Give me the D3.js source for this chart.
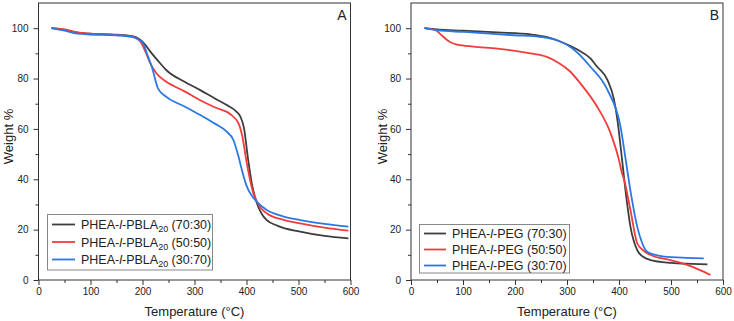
<!DOCTYPE html>
<html>
<head>
<meta charset="utf-8">
<script src="https://cdn.jsdelivr.net/npm/d3@7"></script>
<style>
  body { margin: 0; background: #fff; }
  svg { display: block; font-family: Arial, "Liberation Sans", sans-serif; }
</style>
</head>
<body>
<svg id="chart"></svg>
<script>
const WIDTH = 734;
const HEIGHT = 321;

// Panel A: PHEA-l-PBLA20 copolymers
const tempA7030 = [25, 50, 75, 100, 150, 180, 195, 205, 214, 230, 246, 280, 311, 340, 362, 380, 388, 395, 403, 410, 420, 430, 439, 460, 503, 550, 596];
const weightA7030 = [100, 99.3, 98.2, 97.8, 97.4, 96.8, 95.5, 93.5, 91, 87, 83.3, 78.8, 75.4, 72, 69.5, 67, 65, 60.5, 48, 38.5, 30.5, 26, 23.8, 21.5, 19.2, 17.5, 16.5];
const tempA5050 = [25, 50, 75, 100, 150, 180, 195, 205, 215, 227, 246, 280, 311, 340, 368, 385, 392, 400, 413, 426, 440, 470, 503, 550, 596];
const weightA5050 = [100, 99.5, 98.3, 97.8, 97.3, 96.6, 95, 91, 86, 82, 78.7, 75, 71.4, 68.5, 66, 62, 57, 47, 34.5, 29, 26.3, 24, 22.5, 20.8, 19.6];
const tempA3070 = [25, 50, 75, 100, 150, 180, 192, 201, 210, 218, 230, 246, 280, 311, 340, 362, 375, 384, 392, 400, 410, 420, 439, 470, 503, 550, 596];
const weightA3070 = [100, 99, 97.8, 97.5, 97.2, 96.5, 95.5, 94, 89, 84.6, 76, 72.7, 69, 65.5, 62, 58.9, 55.5, 49.5, 43, 37.5, 33.5, 31, 27.8, 25.3, 23.8, 22.3, 21.2];

// Panel B: PHEA-l-PEG copolymers
const tempB7030 = [26, 50, 100, 166, 230, 260, 288, 320, 345, 358, 378, 390, 397, 406, 414, 422, 435, 448, 461, 500, 540, 570];
const weightB7030 = [100, 99.5, 99, 98.3, 97.5, 96.5, 94.6, 91.5, 88, 84.7, 79.4, 72, 63.5, 47.6, 33, 21.2, 11.9, 9, 7.9, 6.8, 6.4, 6.2];
const tempB5050 = [26, 47, 60, 70, 80, 89, 120, 166, 230, 260, 281, 305, 326, 358, 384, 400, 405, 410, 422, 435, 448, 461, 499, 531, 555, 576];
const weightB5050 = [100, 99.2, 97, 95.2, 94, 93.5, 92.7, 91.9, 90, 88.7, 86.6, 83, 78, 68.8, 58.2, 47.6, 43, 39.7, 27.8, 14.6, 11.5, 9.9, 7.9, 6, 4, 2];
const tempB3070 = [26, 50, 102, 198, 250, 281, 310, 345, 378, 403, 413, 424, 435, 444, 454, 470, 487, 530, 563];
const weightB3070 = [100, 99.2, 98.5, 97.2, 96.5, 95.2, 92, 84.7, 75.4, 60.8, 47.6, 33, 21.2, 15, 11.2, 10, 9.3, 8.8, 8.6];

const ratioLabels = ['(70:30)', '(50:50)', '(30:70)'];
const seriesColors = ['#3d3d3d', '#f23b3b', '#2b78e4'];

const xTicks = [0, 100, 200, 300, 400, 500, 600];
const xMinorTicks = [50, 150, 250, 350, 450, 550];
const yTicks = [0, 20, 40, 60, 80, 100];
const yMinorTicks = [10, 30, 50, 70, 90];

const panels = [
  {
    letter: 'A', left: 38.5, right: 350.5, titleX: 8,
    legend: {x: 47.5, y: 214.5, w: 165, h: 55.5, rowH: 17.5, first: 224.5, lineX: 52, lineLen: 23, textX: 81},
    polymer: 'PBLA', sub: '20',
    series: [[tempA7030, weightA7030], [tempA5050, weightA5050], [tempA3070, weightA3070]]
  },
  {
    letter: 'B', left: 411, right: 723, titleX: 382,
    legend: {x: 419.5, y: 224.5, w: 150, h: 48.5, rowH: 16, first: 233.5, lineX: 424, lineLen: 22, textX: 452},
    polymer: 'PEG', sub: null,
    series: [[tempB7030, weightB7030], [tempB5050, weightB5050], [tempB3070, weightB3070]]
  }
];

const TOP = 3;
const BOTTOM = 280;
const AXIS_COLOR = '#333';

const svg = d3.select('#chart').attr('width', WIDTH).attr('height', HEIGHT);

for (const p of panels) {
  const x = d3.scaleLinear().domain([0, 600]).range([p.left, p.right]);
  const y = d3.scaleLinear().domain([0, 110]).range([BOTTOM, TOP]);
  const g = svg.append('g');

  // curves
  const line = d3.line()
    .x(d => x(d[0]))
    .y(d => y(d[1]))
    .curve(d3.curveMonotoneX);
  p.series.forEach(([temps, weights], i) => {
    const pts = temps.map((t, j) => [t, weights[j]]);
    g.append('path')
      .datum(pts)
      .attr('fill', 'none')
      .attr('stroke', seriesColors[i])
      .attr('stroke-width', 1.8)
      .attr('d', line);
  });

  // frame
  g.append('rect')
    .attr('x', p.left).attr('y', TOP)
    .attr('width', p.right - p.left).attr('height', BOTTOM - TOP)
    .attr('fill', 'none').attr('stroke', AXIS_COLOR).attr('stroke-width', 1);

  // axes
  const xAxis = d3.axisBottom(x).tickValues(xTicks).tickSize(5).tickPadding(3).tickFormat(d3.format('d'));
  const xAxisG = g.append('g').attr('transform', `translate(0,${BOTTOM})`).call(xAxis);
  const xMinor = d3.axisBottom(x).tickValues(xMinorTicks).tickSize(3).tickFormat('');
  const xMinorG = g.append('g').attr('transform', `translate(0,${BOTTOM})`).call(xMinor);
  const yAxis = d3.axisLeft(y).tickValues(yTicks).tickSize(5).tickPadding(5).tickFormat(d3.format('d'));
  const yAxisG = g.append('g').attr('transform', `translate(${p.left},0)`).call(yAxis);
  const yMinor = d3.axisLeft(y).tickValues(yMinorTicks).tickSize(3).tickFormat('');
  const yMinorG = g.append('g').attr('transform', `translate(${p.left},0)`).call(yMinor);

  for (const a of [xAxisG, xMinorG, yAxisG, yMinorG]) {
    a.select('.domain').remove();
    a.selectAll('line').attr('stroke', AXIS_COLOR);
    a.selectAll('text').attr('fill', '#222').style('font-size', '10px').style('font-family', 'Arial, "Liberation Sans", sans-serif');
  }

  // axis titles
  g.append('text')
    .attr('x', (p.left + p.right) / 2).attr('y', 316)
    .attr('text-anchor', 'middle').attr('fill', '#222')
    .style('font-size', '13px')
    .text('Temperature (°C)');
  g.append('text')
    .attr('transform', `translate(${p.titleX + 5},${y(57)}) rotate(-90)`)
    .attr('text-anchor', 'middle').attr('fill', '#222')
    .style('font-size', '13px')
    .text('Weight %');

  // panel letter
  g.append('text')
    .attr('x', p.right - 4).attr('y', 20)
    .attr('text-anchor', 'end').attr('fill', '#222')
    .style('font-size', '14px')
    .text(p.letter);

  // legend
  const L = p.legend;
  g.append('rect')
    .attr('x', L.x).attr('y', L.y).attr('width', L.w).attr('height', L.h)
    .attr('fill', '#fff').attr('stroke', '#888').attr('stroke-width', 1);
  ratioLabels.forEach((r, i) => {
    const cy = L.first + i * L.rowH;
    g.append('line')
      .attr('x1', L.lineX).attr('x2', L.lineX + L.lineLen)
      .attr('y1', cy).attr('y2', cy)
      .attr('stroke', seriesColors[i]).attr('stroke-width', 1.8);
    const t = g.append('text')
      .attr('x', L.textX).attr('y', cy + 4.5)
      .attr('fill', '#222').style('font-size', '12.5px');
    t.append('tspan').text('PHEA-');
    t.append('tspan').style('font-style', 'italic').text('l');
    t.append('tspan').text('-' + p.polymer);
    if (p.sub) {
      t.append('tspan').attr('dy', 3).style('font-size', '9px').text(p.sub);
      t.append('tspan').attr('dy', -3).text(' ' + r);
    } else {
      t.append('tspan').text(' ' + r);
    }
  });
}
</script>
</body>
</html>
